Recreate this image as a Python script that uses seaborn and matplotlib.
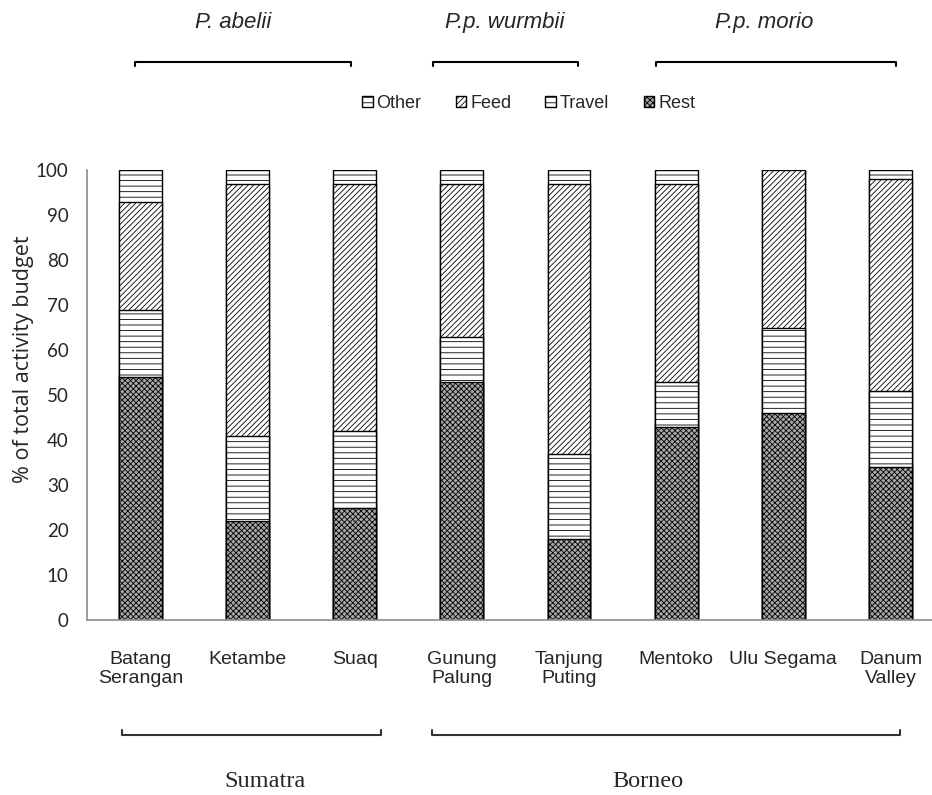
import matplotlib
matplotlib.use("Agg")
import matplotlib.pyplot as plt
import matplotlib.transforms as mtransforms
from matplotlib.patches import Patch
import numpy as np
import pandas as pd
import seaborn as sns

sites = ["Batang\nSerangan", "Ketambe", "Suaq", "Gunung\nPalung",
         "Tanjung\nPuting", "Mentoko", "Ulu Segama", "Danum\nValley"]
rest = [54, 22, 25, 53, 18, 43, 46, 34]
travel = [15, 19, 17, 10, 19, 10, 19, 17]
feed = [24, 56, 55, 34, 60, 44, 35, 47]
other = [7, 3, 3, 3, 3, 3, 0, 2]

species = ["P. abelii", "P.p. wurmbii", "P.p. morio"]
islands = ["Sumatra", "Borneo"]


sns.set_style("white")
plt.rcParams["hatch.linewidth"] = 0.6
sans = ["Liberation Sans", "DejaVu Sans"]

df = pd.DataFrame({"site": sites, "Rest": rest, "Travel": travel,
                   "Feed": feed, "Other": other})
layers = ["Rest", "Travel", "Feed", "Other"]
cum = df[layers].cumsum(axis=1)

styles = {
    "Other": ("white", "---"),
    "Feed": ("white", "//////"),
    "Travel": ("white", "---"),
    "Rest": ("#a8a8a8", "xxxxxx"),
}

fig = plt.figure(figsize=(9.32, 7.95), dpi=100)
ax = fig.add_axes([0.093, 0.22, 0.92, 0.566])

# draw tallest cumulative layer first so lower layers sit on top
for layer in reversed(layers):
    face, hatch = styles[layer]
    n_before = len(ax.patches)
    sns.barplot(x=df["site"], y=cum[layer], ax=ax, color=face,
                width=0.4, saturation=1, edgecolor="black", linewidth=1)
    for p in ax.patches[n_before:]:
        p.set_facecolor(face)
        p.set_hatch(hatch)
        p.set_edgecolor("black")

ax.set_ylim(0, 100)
ax.set_xlim(-0.5, 7.5)
ax.set_yticks(range(0, 101, 10))
ax.set_xlabel("")
ax.set_ylabel("% of total activity budget", fontsize=15.5, family="Open Sans")
ax.yaxis.set_label_coords(-0.062, 0.58)

for side in ["top", "right"]:
    ax.spines[side].set_visible(False)
for side in ["left", "bottom"]:
    ax.spines[side].set_color("#8c8c8c")
    ax.spines[side].set_linewidth(1.2)

ax.tick_params(axis="y", direction="out", length=5, color="#8c8c8c",
               width=1, pad=8, labelsize=13.5)
for lab in ax.get_yticklabels():
    lab.set_family("Lato")
ax.tick_params(axis="x", length=0, pad=22)
for lab in ax.get_xticklabels():
    lab.set_family(sans)
    lab.set_fontsize(14)
    lab.set_linespacing(1.2)

ax.set_xticks(np.arange(0.5, 7.5, 1), minor=True)
ax.tick_params(axis="x", which="minor", direction="in", length=5,
               color="#8c8c8c", width=1)

# legend
handles = [Patch(facecolor=styles[k][0], hatch=styles[k][1],
                 edgecolor="black", label=k)
           for k in ["Other", "Feed", "Travel", "Rest"]]
fig.legend(handles=handles, loc="center", bbox_to_anchor=(0.567, 0.87),
           ncol=4, frameon=False, handlelength=0.6, handleheight=0.6,
           handletextpad=0.2, columnspacing=1.9,
           prop={"family": sans, "size": 13})

# brackets
trans = mtransforms.blended_transform_factory(ax.transData, fig.transFigure)

top_spans = [(-0.05, 1.97), (2.73, 4.08), (4.81, 7.05)]
top_label_x = [0.87, 3.40, 5.82]
for (x0, x1), lx, name in zip(top_spans, top_label_x, species):
    ax.plot([x0, x0, x1, x1], [0.917, 0.922, 0.922, 0.917], color="black",
            lw=1.5, transform=trans, clip_on=False)
    fig.text(lx, 0.972, name, transform=trans, ha="center", va="center",
             style="italic", fontsize=16, family="Liberation Sans")

bottom_spans = [(-0.17, 2.25), (2.72, 7.09)]
bottom_label_x = [1.16, 4.74]
for (x0, x1), lx, name in zip(bottom_spans, bottom_label_x, islands):
    ax.plot([x0, x0, x1, x1], [0.082, 0.075, 0.075, 0.082], color="#333333",
            lw=1.5, transform=trans, clip_on=False)
    fig.text(lx, 0.017, name, transform=trans, ha="center",
             va="center", fontsize=17.5, family="Liberation Serif")

fig.savefig("out.png", dpi=100)
